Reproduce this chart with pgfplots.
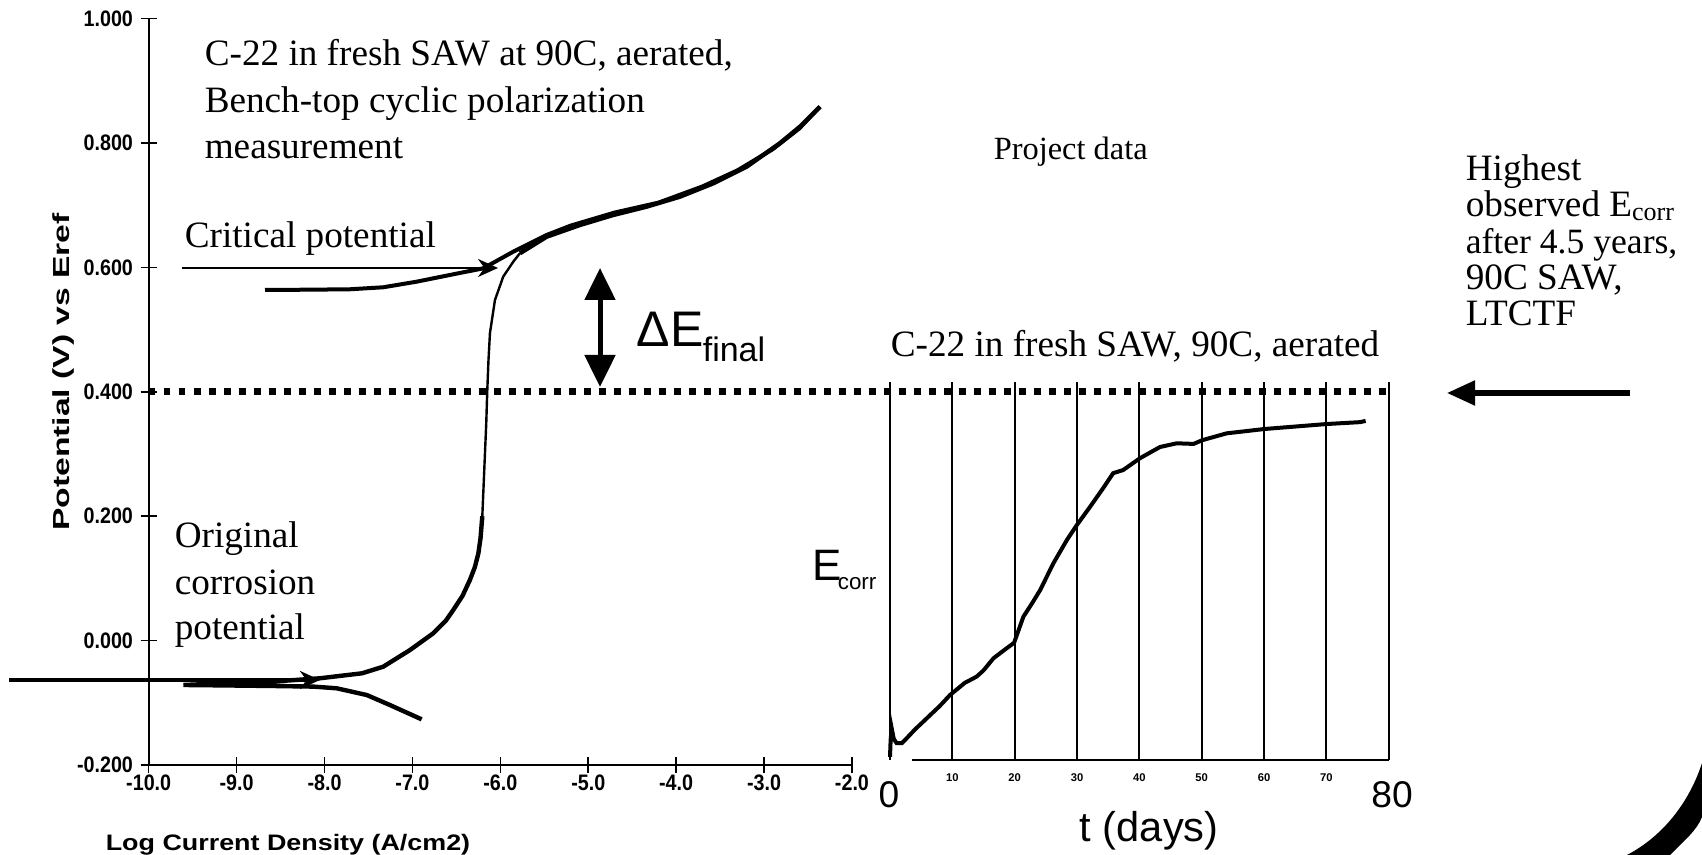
\documentclass[border=0pt]{standalone}
\usepackage{graphicx}
\usepackage{pgfplots}
\pgfplotsset{compat=1.18}
\usepackage{fontspec}
\setmainfont{Liberation Serif}
\newfontfamily\arial{Liberation Sans}
\newfontfamily\arialn[FakeStretch=0.88]{Liberation Sans}
\usetikzlibrary{arrows.meta}

\newcommand\annot{\fontsize{9.3}{11}\selectfont}

\begin{document}
\begin{tikzpicture}
\useasboundingbox (0,0) rectangle (425.5pt,213.75pt);

% cyclic polarization curve
\begin{axis}[
  at={(37.175pt,22.5pt)}, anchor=south west,
  scale only axis, width=175.83pt, height=186.63pt,
  xmin=-10, xmax=-2, ymin=-0.2, ymax=1.0,
  axis x line*=bottom, axis y line*=left,
  axis line style={-, line width=0.45pt},
  xtick={-10,-9,-8,-7,-6,-5,-4,-3,-2},
  xticklabels={-10.0,-9.0,-8.0,-7.0,-6.0,-5.0,-4.0,-3.0,-2.0},
  ytick={-0.2,0,0.2,0.4,0.6,0.8,1.0},
  yticklabels={-0.200,0.000,0.200,0.400,0.600,0.800,1.000},
  tick align=center, major tick length=4pt,
  tick style={black, line width=0.4pt},
  ticklabel style={font=\arialn\bfseries\fontsize{5.6}{6}\selectfont},
  xticklabel style={yshift=3.0pt},
  yticklabel style={xshift=1.6pt},
  clip=false,
]
% forward scan, cathodic part and back to Ecorr
\addplot[black, line width=1.1pt] coordinates {
(-6.895,-0.1266)(-7.256,-0.1036)(-7.52,-0.0875)(-7.862,-0.0767)(-8.128,-0.074)
(-8.6,-0.073)(-9.2,-0.072)(-9.606,-0.0714)(-9.2,-0.069)(-8.6,-0.066)
(-8.052,-0.0606)(-7.573,-0.0526)(-7.332,-0.042)(-7.028,-0.0152)(-6.763,0.0117)
(-6.62,0.032)(-6.535,0.0492)(-6.43,0.072)(-6.346,0.0974)(-6.29,0.118)
(-6.25,0.140)(-6.225,0.165)(-6.205,0.200)};
% forward scan, passive region
\addplot[black, line width=0.6pt] coordinates {
(-6.205,0.200)(-6.19,0.250)(-6.175,0.300)(-6.16,0.350)(-6.149,0.400)
(-6.135,0.450)(-6.118,0.4944)(-6.061,0.5475)(-5.967,0.585)(-5.853,0.609)(-5.777,0.6226)};
% forward scan, transpassive
\addplot[black, line width=1.1pt] coordinates {
(-5.777,0.6226)(-5.473,0.6492)(-5.094,0.668)(-4.716,0.6841)(-4.336,0.6975)
(-3.957,0.7135)(-3.578,0.735)(-3.198,0.7618)(-2.82,0.7994)(-2.592,0.826)(-2.364,0.8582)};
% reverse scan
\addplot[black, line width=1.0pt] coordinates {
(-2.364,0.8582)(-2.6,0.823)(-2.9,0.790)(-3.3,0.756)(-3.7,0.730)(-4.2,0.704)
(-4.7,0.688)(-5.2,0.667)(-5.473,0.652)(-5.853,0.6251)(-6.194,0.5984)(-6.573,0.5877)
(-6.952,0.5769)(-7.332,0.5679)(-7.71,0.5647)(-8.2,0.564)(-8.677,0.5636)};
% highest observed Ecorr level
\addplot[black, line width=1.8pt, dash pattern=on 1.7pt off 2.05pt] coordinates {(-10,0.4)(4.141,0.4)};
\end{axis}

% Ecorr versus time inset
\begin{axis}[
  at={(222.5pt,23.75pt)}, anchor=south west,
  scale only axis, width=124.675pt, height=94.575pt,
  xmin=0, xmax=80, ymin=-0.192, ymax=0.416,
  axis line style={draw=none},
  xtick={0,10,20,30,40,50,60,70,80},
  xticklabels={{},10,20,30,40,50,60,70,{}},
  ytick=\empty,
  major tick length=0pt,
  xmajorgrids, grid style={black, line width=0.45pt},
  ticklabel style={font=\arial\bfseries\fontsize{2.8}{3}\selectfont},
  clip=false,
]
\addplot[black, line width=0.5pt] coordinates {(3.5,-0.192)(80,-0.192)};
\addplot[black, line width=1.0pt] coordinates {
(0,-0.187)(0.1,-0.16)(0.27,-0.141)(0.6,-0.158)(1.07,-0.165)(1.88,-0.165)
(2.68,-0.157)(4,-0.143)(5.9,-0.125)(8,-0.105)(9.63,-0.0875)(12,-0.068)
(13.9,-0.058)(15,-0.048)(16.6,-0.0285)(18.5,-0.014)(19.9,-0.0037)(21.4,0.0384)
(22.8,0.06)(24.1,0.0813)(26.2,0.124)(28.4,0.162)(30.0,0.186)(32.1,0.215)
(34.2,0.245)(35.8,0.269)(37.4,0.274)(40.1,0.293)(43.3,0.311)(46.0,0.317)
(48.7,0.316)(50.1,0.322)(54.0,0.333)(60.1,0.340)(70.1,0.348)(75.4,0.351)(76.3,0.353)};
\end{axis}

% annotations, in pixel units from the top left corner
\begin{scope}[shift={(0pt,213.75pt)}, x=0.25pt, y=-0.25pt]
\node[anchor=base west, inner sep=0pt, font=\annot] at (204,66) {C-22 in fresh SAW at 90C, aerated,};
\node[anchor=base west, inner sep=0pt, font=\annot] at (204,113) {Bench-top cyclic polarization};
\node[anchor=base west, inner sep=0pt, font=\annot] at (204,159) {measurement};
\node[anchor=base west, inner sep=0pt, font=\annot] at (184,248) {Critical potential};
\node[anchor=base west, inner sep=0pt, font=\annot] at (174,548) {Original};
\node[anchor=base west, inner sep=0pt, font=\annot] at (174,595) {corrosion};
\node[anchor=base west, inner sep=0pt, font=\annot] at (174,640) {potential};
\node[anchor=base west, inner sep=0pt, font=\fontsize{8.1}{10}\selectfont] at (993,160) {Project data};
\node[anchor=base west, inner sep=0pt, font=\annot] at (890,357) {C-22 in fresh SAW, 90C, aerated};
\node[anchor=base west, inner sep=0pt, font=\annot] at (1465,181) {Highest};
\node[anchor=base west, inner sep=0pt, font=\annot] at (1465,217) {observed E\textsubscript{corr}};
\node[anchor=base west, inner sep=0pt, font=\fontsize{8.9}{11}\selectfont] at (1465,254) {after 4.5 years,};
\node[anchor=base west, inner sep=0pt, font=\annot] at (1465,290) {90C SAW,};
\node[anchor=base west, inner sep=0pt, font=\annot] at (1465,326) {LTCTF};

\node[anchor=base west, inner sep=0pt, font=\arial\fontsize{12.5}{14}\selectfont] at (636,347) {ΔE};
\node[anchor=base west, inner sep=0pt, font=\arial\fontsize{8.5}{10}\selectfont] at (702,362) {final};
\node[anchor=base west, inner sep=0pt, font=\arial\fontsize{11}{13}\selectfont] at (812,581) {E};
\node[anchor=base west, inner sep=0pt, font=\arial\fontsize{5.6}{7}\selectfont] at (837,590) {corr};

\node[anchor=base, inner sep=0pt, font=\arial\fontsize{9.3}{11}\selectfont] at (889,808) {0};
\node[anchor=base, inner sep=0pt, font=\arial\fontsize{9.3}{11}\selectfont] at (1392,808) {80};
\node[anchor=base west, inner sep=0pt, font=\arial\fontsize{10.4}{12}\selectfont] at (1079,842) {t (days)};

\node[rotate=90, inner sep=0pt, font=\arial\bfseries\fontsize{5.8}{6}\selectfont] at (64,372) {\scalebox{1.45}[1]{Potential (V) vs Eref}};
\node[inner sep=0pt, font=\arial\bfseries\fontsize{5.6}{6}\selectfont] at (288,845) {\scalebox{1.2}[1]{Log Current Density (A/cm2)}};

\draw[line width=0.55pt, -{Stealth[length=5pt,width=4.5pt]}] (182,268) -- (498,268);
\draw[line width=1pt, -{Stealth[length=5pt,width=4.5pt]}] (9,680) -- (320,680);
\draw[line width=1.25pt, {Triangle[length=8pt,width=7.5pt]}-{Triangle[length=8pt,width=7.5pt]}] (600,268) -- (600,387);
\draw[line width=1.3pt, -{Triangle[length=7pt,width=6pt]}] (1630,393) -- (1447,393);

\fill (1702,763) .. controls (1690,800) and (1665,835) .. (1627,855) -- (1670,855) .. controls (1685,840) and (1697,830) .. (1702,817) -- cycle;
\end{scope}
\end{tikzpicture}
\end{document}
